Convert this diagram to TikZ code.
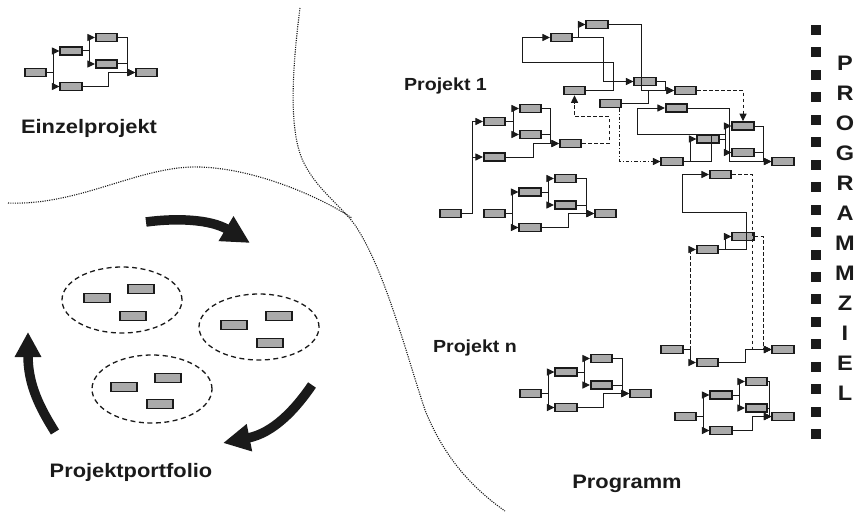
\documentclass[tikz,border=0pt]{standalone}
\usepackage{fontspec}
\setmainfont{Liberation Sans}
\newfontfamily\labfont[FakeStretch=1.12]{Liberation Sans}
\usetikzlibrary{arrows.meta}
\definecolor{boxfill}{HTML}{AAAAAA}
\definecolor{ink}{HTML}{1A1A1A}
\tikzset{
 tb/.style={draw=ink, fill=boxfill, line width=1.6pt, minimum width=21.5pt, minimum height=8pt, inner sep=0pt},
 pb/.style={tb, minimum width=26pt, minimum height=9pt},
 cn/.style={draw=ink, line width=1pt},
 ar/.style={cn, -{Triangle[length=7.5pt,width=7pt]}},
 dsh/.style={dash pattern=on 3.5pt off 2.5pt},
 dshdot/.style={dash pattern=on 3.5pt off 2pt on 1pt off 2pt},
 dotln/.style={draw=ink, line width=1.1pt, dash pattern=on 1.1pt off 1.2pt},
 fat/.style={draw=ink, line width=9.5pt},
 ell/.style={draw=ink, line width=1.3pt, dash pattern=on 5pt off 3.5pt},
 lbl/.style={font=\labfont\fontsize{19.5}{22}\selectfont\bfseries, text=ink, inner sep=0pt, anchor=base},
 slbl/.style={lbl, font=\labfont\fontsize{17.5}{20}\selectfont\bfseries},
 ltr/.style={font=\labfont\fontsize{21}{24}\selectfont\bfseries, text=ink, inner sep=0pt},
 sq/.style={fill=ink, minimum size=10pt, inner sep=0pt},
}
\newcommand\pnet[6]{%
\begin{scope}[shift={(#2,#3)}]
\node[tb] (#1a) at (0,0) {};
\node[tb] (#1b) at (35.5,-21.5) {};
\node[tb] (#1c) at (71,-35) {};
\node[tb] (#1d) at (71,-8.5) {};
\node[tb] (#1e) at (35.5,14) {};
\node[tb] (#1f) at (#4,0) {};
\coordinate (#1j) at (18,0);
\coordinate (#1k) at (53.5,-21.5);
\coordinate (#1m) at (#5,0);
\coordinate (#1n) at (#6,0);
\end{scope}
\draw[cn] (#1a.east) -- (#1j);
\draw[ar] (#1j) |- (#1b.west);
\draw[ar] (#1j) |- (#1e.west);
\draw[cn] (#1b.east) -- (#1k);
\draw[ar] (#1k) |- (#1c.west);
\draw[ar] (#1k) |- (#1d.west);
\draw[ar] (#1c.east) -| (#1m) -- (#1f.west);
\draw[ar] (#1d.east) -| (#1m) -- (#1f.west);
\draw[ar] (#1e.east) -| (#1n) -- (#1f.west);
}
\begin{document}
\begin{tikzpicture}[x=1pt,y=-1pt]
\useasboundingbox (0,0) rectangle (856,511);

% dotted borders
\draw[dotln] (300,8) .. controls (292,70) and (288,135) .. (305,165) .. controls (318,190) and (340,205) .. (355,225) .. controls (385,270) and (405,350) .. (425,410) .. controls (445,460) and (475,490) .. (505,511);
\draw[dotln] (8,203) .. controls (80,206) and (140,165) .. (200,167) .. controls (260,169) and (325,200) .. (352,218);

% Einzelprojekt
\pnet{e}{35.5}{72.5}{111}{91.5}{72.5}
\node[lbl] (einzel) at (89,133) {Einzelprojekt};

% Portfolio
\draw[ell] (122,300) ellipse [x radius=60pt, y radius=33pt];
\draw[ell] (259,327) ellipse [x radius=60pt, y radius=33pt];
\draw[ell] (152,389) ellipse [x radius=60pt, y radius=34pt];
\node[pb] (pa1) at (97,298) {};
\node[pb] (pa2) at (141,289) {};
\node[pb] (pa3) at (133,316) {};
\node[pb] (pb1) at (234,325) {};
\node[pb] (pb2) at (279,316) {};
\node[pb] (pb3) at (270,343) {};
\node[pb] (pc1) at (124,387) {};
\node[pb] (pc2) at (168,378) {};
\node[pb] (pc3) at (160,404) {};
\draw[fat,-{Triangle[length=28pt,width=27pt]}] (146,222) .. controls (175,218) and (210,219) .. (250,243);
\draw[fat,-{Triangle[length=27pt,width=26pt]}] (312,385) .. controls (295,410) and (273,433) .. (223,443);
\draw[fat,-{Triangle[length=25pt,width=25pt]}] (55,432) .. controls (40,408) and (28,385) .. (28,332);
\node[lbl] (portf) at (131,477) {Projektportfolio};

% Programm: Projekt 1
\node[slbl] (pj1) at (445.5,90) {Projekt 1};
\node[tb] (q0) at (450.5,213.5) {};
\node[tb] (q1) at (494.5,121.5) {};
\node[tb] (q2) at (530.5,108.5) {};
\node[tb] (q3) at (530.5,134.5) {};
\node[tb] (q4) at (494.5,157) {};
\node[tb] (q5) at (570.5,143.5) {};
\coordinate (qj) at (472,157);
\draw[ar] (q0.east) -| (472,121.5) -- (q1.west);
\draw[ar] (qj) -- (q4.west);
\draw[ar] (q1.east) -- ++(7,0) |- (q2.west);
\draw[ar] (q1.east) -- ++(7,0) |- (q3.west);
\draw[ar] (q2.east) -| (550,143.5) -- (q5.west);
\draw[cn] (q3.east) -| (550,143.5);
\draw[ar] (q4.east) -| (533,143.5) -- (q5.west);

\pnet{t}{494.5}{213.5}{111}{91.5}{73.5}

% main program network
\node[tb] (p1) at (561.5,37.5) {};
\node[tb] (p2) at (597,24.5) {};
\node[tb] (p3) at (574.5,90.5) {};
\node[tb] (p4) at (610.5,103.5) {};
\node[tb] (p5) at (645,81.5) {};
\node[tb] (p6) at (685.5,90.5) {};
\node[tb] (p7) at (676.5,108) {};
\node[tb] (p8) at (743,126) {};
\node[tb] (p9) at (708,139) {};
\node[tb] (p10) at (743,152.5) {};
\node[tb] (p11) at (672,161.5) {};
\node[tb] (p12) at (783,161.5) {};
\node[tb] (p13) at (720.5,174.5) {};
\node[tb] (p14) at (743,236.5) {};
\node[tb] (p15) at (707.5,249.5) {};
\node[tb] (p16) at (672,349.5) {};
\node[tb] (p17) at (707.5,362.5) {};
\node[tb] (p18) at (783,349.5) {};

\draw[ar] (p1.east) -- ++(5,0) |- (p2.west);
\draw[ar] (p1.east) -| (603,81.5) -- (p5.west);
\draw[ar] (p2.east) -| (641,90.5) -- (p6.west);
\draw[ar] (p5.east) -| (665,90.5) -- (p6.west);
\draw[cn] (p4.east) -| (648,90.5);
\draw[ar] (p3.east) -| (613,63) -| (522,37.5) -- (p1.west);
\draw[ar,dsh] (q5.east) -| (609,116.5) -| (p3.south);
\draw[ar,dshdot] (p4.south east) ++(-2.5,0) |- (p11.west);
\draw[ar,dsh] (p6.east) -| (p8.north);
\draw[ar] (p11.east) -| (711,134) -| (637,108) -- (p7.west);
\coordinate (c9) at (725,139);
\draw[cn] (711,134) -- (725,134);
\draw[ar] (p11.east) -- ++(7,0) |- (p9.west);
\draw[cn] (p9.east) -- (c9);
\draw[ar] (c9) |- (p8.west);
\draw[ar] (c9) |- (p10.west);
\draw[ar] (p7.east) -| (729,161.5) -- (p12.west);
\draw[ar] (p8.east) -| (763,161.5) -- (p12.west);
\draw[cn] (p10.east) -- (763,152.5);
\draw[ar] (p15.east) -- ++(6,0) |- (p14.west);
\draw[ar] (p15.east) -| (746,212) -| (682,174.5) -- (p13.west);
\draw[ar,dsh] (p13.east) -| (752,349.5) -- (p18.west);
\draw[ar,dsh] (p14.east) -| (763,349.5) -- (p18.west);
\draw[ar] (p16.east) -- ++(6.5,0) |- (p17.west);
\draw[ar,dsh] (p16.east) ++(6.5,0) |- (p15.west);
\draw[ar] (p17.east) -| (745,349.5) -- (p18.west);

% Projekt n
\node[slbl] (pjn) at (475,352) {Projekt n};
\pnet{r}{530.5}{393.5}{110}{91.5}{72.5}
\pnet{s}{685.5}{416.5}{97.5}{83.5}{66.5}

\node[lbl] (prog) at (627,488) {Programm};

% right column
\foreach \i in {0,...,18} \node[sq] (sq\i) at (816,{30+22.45*\i}) {};
\foreach \c [count=\i from 0] in {P,R,O,G,R,A,M,M,Z,I,E,L}
  \node[ltr] (l\i) at (845,{63.5+30*\i}) {\c};
\end{tikzpicture}
\end{document}
